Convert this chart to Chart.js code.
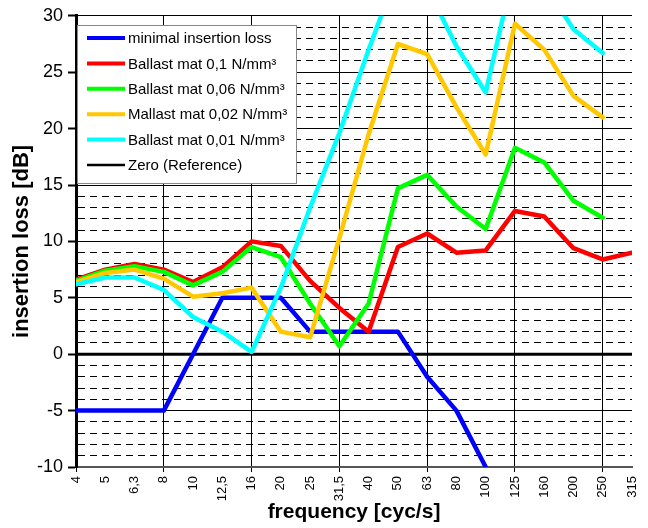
<!DOCTYPE html>
<html>
<head>
<meta charset="utf-8">
<script src="https://cdn.jsdelivr.net/npm/chart.js@4"></script>
<style>
  html, body { margin: 0; padding: 0; background: #fff; }
  #wrap { width: 648px; height: 528px; }
</style>
</head>
<body>
<div id="wrap"><canvas id="myChart" width="648" height="528"></canvas></div>
<script>
// frequency bands (third octave)
var categories = ['4', '5', '6,3', '8', '10', '12,5', '16', '20', '25', '31,5', '40', '50', '63', '80', '100', '125', '160', '200', '250', '315'];

// insertion loss values [dB]
var minimalLoss = [-5, -5, -5, -5, 0, 5, 5, 5, 2, 2, 2, 2, -2, -5, -10, null, null, null, null, null];
var mat01 = [6.6, 7.5, 8.0, 7.5, 6.4, 7.7, 10.0, 9.6, 6.5, 4.1, 2.0, 9.5, 10.7, 9.0, 9.2, 12.7, 12.2, 9.4, 8.4, 9.0];
var mat006 = [6.5, 7.4, 7.8, 7.3, 6.1, 7.3, 9.5, 8.6, 4.5, 0.7, 4.5, 14.7, 15.9, 13.1, 11.1, 18.3, 17.0, 13.6, 12.1, null];
var mat002 = [6.4, 7.2, 7.5, 6.7, 5.1, 5.4, 5.9, 2.0, 1.5, 10.3, 19.5, 27.5, 26.6, 21.9, 17.7, 29.3, 27.0, 22.9, 21.0, null];
var mat001 = [6.2, 6.8, 6.8, 5.7, 3.3, 2.0, 0.2, 5.9, 13.0, 19.6, 27.0, 34.0, 32.5, 27.3, 23.2, 34.5, 32.8, 28.8, 26.7, null];
var zeroRef = [0, 0, 0, 0, 0, 0, 0, 0, 0, 0, 0, 0, 0, 0, 0, 0, 0, 0, 0, 0];

var seriesNames = ['minimal insertion loss', 'Ballast mat 0,1 N/mm³', 'Ballast mat 0,06 N/mm³', 'Mallast mat 0,02 N/mm³', 'Ballast mat 0,01 N/mm³', 'Zero (Reference)'];

var yMin = -10, yMax = 30;

var FONT = "'Liberation Sans', Arial, sans-serif";

function line(label, values, color, width, order) {
    return {
        label: label,
        data: values,
        borderColor: color,
        backgroundColor: color,
        borderWidth: width,
        pointRadius: 0,
        tension: 0,
        borderJoinStyle: 'round',
        borderCapStyle: 'round',
        clip: 0,
        order: order
    };
}

// legend box drawn inside the plot, like the original
var legendBox = {
    id: 'legendBox',
    afterDatasetsDraw: function (chart) {
        var ctx = chart.ctx;
        var x0 = 77, y0 = 25, w = 219, h = 158;
        ctx.save();
        ctx.fillStyle = '#fff';
        ctx.fillRect(x0, y0, w, h);
        ctx.strokeStyle = '#888';
        ctx.lineWidth = 1;
        ctx.strokeRect(x0 + 0.5, y0 + 0.5, w, h);
        ctx.font = '15px ' + FONT;
        ctx.textBaseline = 'middle';
        ctx.fillStyle = '#000';
        chart.data.datasets.forEach(function (ds, i) {
            var y = 38 + i * 25.4;
            ctx.beginPath();
            ctx.strokeStyle = ds.borderColor;
            ctx.lineWidth = i === 5 ? 2.5 : 4;
            ctx.moveTo(87, y);
            ctx.lineTo(125, y);
            ctx.stroke();
            ctx.fillText(ds.label, 128, y + 1);
        });
        ctx.restore();
    }
};

var ctx = document.getElementById('myChart').getContext('2d');

var myChart = new Chart(ctx, {
    type: 'line',
    data: {
        labels: categories,
        datasets: [
            line(seriesNames[0], minimalLoss, '#0000ff', 4.5, 6),
            line(seriesNames[1], mat01, '#ff0000', 4.5, 5),
            line(seriesNames[2], mat006, '#00ff00', 4.5, 4),
            line(seriesNames[3], mat002, '#ffc800', 4.5, 3),
            line(seriesNames[4], mat001, '#00ffff', 4.5, 2),
            line(seriesNames[5], zeroRef, '#000000', 3, 7)
        ]
    },
    options: {
        responsive: false,
        animation: false,
        layout: { padding: { top: 15, right: 16, left: 0, bottom: 0 } },
        plugins: {
            legend: { display: false },
            tooltip: { enabled: false }
        },
        scales: {
            x: {
                offset: false,
                afterFit: function (scale) {
                    scale.height = 61;
                    scale.paddingRight = 0;
                    scale.paddingLeft = 0;
                },
                grid: {
                    offset: false,
                    color: function (c) { return c.index % 3 === 0 ? '#000' : 'rgba(0,0,0,0)'; },
                    tickColor: function (c) { return c.index % 3 === 0 ? '#000' : 'rgba(0,0,0,0)'; },
                    tickLength: 5,
                    lineWidth: 1
                },
                border: { color: '#555', width: 2 },
                ticks: {
                    autoSkip: false,
                    minRotation: 90,
                    maxRotation: 90,
                    padding: 4,
                    color: '#000',
                    font: { family: FONT, size: 13 }
                },
                title: {
                    display: true,
                    text: 'frequency [cyc/s]',
                    color: '#000',
                    font: { family: FONT, size: 21, weight: 'bold' },
                    padding: { top: 0, bottom: 3 }
                }
            },
            y: {
                min: yMin,
                max: yMax,
                afterFit: function (scale) { scale.width = 76; },
                grid: {
                    color: '#000',
                    lineWidth: 1,
                    tickLength: 8,
                    tickWidth: 2,
                    tickColor: function (c) { return c.tick && c.tick.value % 5 === 0 ? '#000' : 'rgba(0,0,0,0)'; }
                },
                border: {
                    color: '#000',
                    width: 3,
                    dash: function (c) { return c.tick && c.tick.value % 5 !== 0 ? [7, 5] : []; }
                },
                ticks: {
                    stepSize: 1,
                    maxTicksLimit: 100,
                    autoSkip: false,
                    padding: 5,
                    color: '#000',
                    font: { family: FONT, size: 18 },
                    callback: function (v) { return v % 5 === 0 ? v : ''; }
                },
                title: {
                    display: true,
                    text: 'insertion loss [dB]',
                    color: '#000',
                    font: { family: FONT, size: 22, weight: 'bold' },
                    padding: { top: 9, bottom: 0 }
                }
            }
        }
    },
    plugins: [legendBox]
});
</script>
</body>
</html>
